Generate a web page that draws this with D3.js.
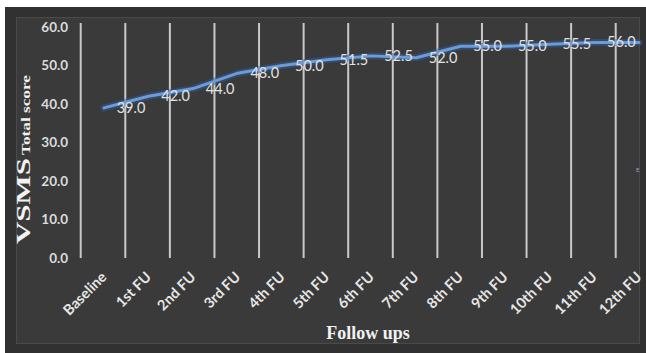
<!DOCTYPE html>
<html>
<head>
<meta charset="utf-8">
<script src="https://cdn.jsdelivr.net/npm/d3@7"></script>
<style>
  html, body { margin: 0; padding: 0; background: #ffffff; }
  svg { display: block; }
</style>
</head>
<body>
<svg id="chart" width="646" height="353"></svg>
<script>
// Follow-up visits and mean VSMS total score at each visit
const categories = ["Baseline", "1st FU", "2nd FU", "3rd FU", "4th FU", "5th FU", "6th FU",
                    "7th FU", "8th FU", "9th FU", "10th FU", "11th FU", "12th FU"];
const scores = [39.0, 42.0, 44.0, 48.0, 50.0, 51.5, 52.5, 52.0, 55.0, 55.0, 55.5, 56.0, 56.0];
// Values printed beside the line (one fewer than the points)
const labelValues = [39.0, 42.0, 44.0, 48.0, 50.0, 51.5, 52.5, 52.0, 55.0, 55.0, 55.5, 56.0];
const yTicks = [0, 10, 20, 30, 40, 50, 60];

const svg = d3.select("#chart");

// Dark chart panel with inner frame
svg.append("rect").attr("x", 5).attr("y", 7).attr("width", 641).attr("height", 346).attr("fill", "#313131");
svg.append("rect").attr("x", 16.5).attr("y", 17.5).attr("width", 623).attr("height", 326)
  .attr("fill", "#3a3a3a").attr("stroke", "#4a4a4a").attr("stroke-width", 1);

const x = d3.scalePoint().domain(categories).range([104, 639]);
const y = d3.scaleLinear().domain([0, 60]).range([258, 27]);
const step = x.step();

// Vertical grid lines between categories
svg.append("g").selectAll("line").data(categories).join("line")
  .attr("x1", d => x(d) - step / 2 - 1).attr("x2", d => x(d) - step / 2 - 1)
  .attr("y1", y(0)).attr("y2", y(60) - 4)
  .attr("stroke", "#c9c9c9").attr("stroke-width", 2);

// Y axis tick labels
const yAxis = d3.axisLeft(y).tickValues(yTicks).tickFormat(d3.format(".1f")).tickSize(0).tickPadding(0);
const gy = svg.append("g").attr("transform", "translate(68,0)").call(yAxis);
gy.select(".domain").remove();
gy.selectAll("text")
  .attr("fill", "#dcdcdc").attr("font-family", "Lato, 'Open Sans', sans-serif")
  .attr("font-weight", "bold").attr("font-size", 13.5);

// X axis category labels, rotated
const xAxis = d3.axisBottom(x).tickSize(0).tickPadding(0);
const gx = svg.append("g").call(xAxis);
gx.select(".domain").remove();
gx.selectAll(".tick text")
  .attr("fill", "#e6e6e6").attr("font-family", "Lato, 'Open Sans', sans-serif")
  .attr("font-weight", "bold").attr("font-size", 14.5)
  .attr("text-anchor", "end").attr("dy", 0).attr("y", 0)
  .attr("transform", "translate(3,278) rotate(-45)");

// Score line with soft glow
const line = d3.line().x((d, i) => x(categories[i])).y(d => y(d)).curve(d3.curveLinear);
svg.append("path").datum(scores).attr("d", line)
  .attr("fill", "none").attr("stroke", "#2f5f9e").attr("stroke-opacity", 0.45)
  .attr("stroke-width", 7).attr("stroke-linejoin", "round").attr("stroke-linecap", "round");
svg.append("path").datum(scores).attr("d", line)
  .attr("fill", "none").attr("stroke", "#6d9bd8")
  .attr("stroke-width", 3).attr("stroke-linejoin", "round").attr("stroke-linecap", "round");

// Value labels
svg.append("g").selectAll("text").data(labelValues).join("text")
  .attr("x", (d, i) => x(categories[i]) + 27)
  .attr("y", (d, i) => y(d) + 5)
  .attr("text-anchor", "middle")
  .attr("fill", "#e2e2e2").attr("font-family", "Lato, 'Open Sans', sans-serif")
  .attr("font-size", 14.5)
  .text(d => d3.format(".1f")(d));

// Axis titles
const serif = "'Liberation Serif', 'DejaVu Serif', serif";
svg.append("text")
  .attr("transform", "translate(30,201) rotate(-90)")
  .attr("text-anchor", "middle")
  .attr("fill", "#f2f2f2").attr("font-family", serif)
  .attr("font-weight", "bold").attr("font-size", 18)
  .attr("textLength", 86).attr("lengthAdjust", "spacingAndGlyphs")
  .text("VSMS");
svg.append("text")
  .attr("transform", "translate(30,115) rotate(-90)")
  .attr("text-anchor", "middle")
  .attr("fill", "#f2f2f2").attr("font-family", serif)
  .attr("font-weight", "bold").attr("font-size", 13)
  .attr("textLength", 80).attr("lengthAdjust", "spacingAndGlyphs")
  .text("Total score");

svg.append("text")
  .attr("x", 368).attr("y", 339)
  .attr("text-anchor", "middle")
  .attr("fill", "#f2f2f2").attr("font-family", serif)
  .attr("font-weight", "bold").attr("font-size", 18)
  .text("Follow ups");

// Small mark near the right edge
svg.append("text").attr("x", 636).attr("y", 172).attr("fill", "#8fa9c9")
  .attr("font-family", "Lato, sans-serif").attr("font-size", 6).text("E");
</script>
</body>
</html>
